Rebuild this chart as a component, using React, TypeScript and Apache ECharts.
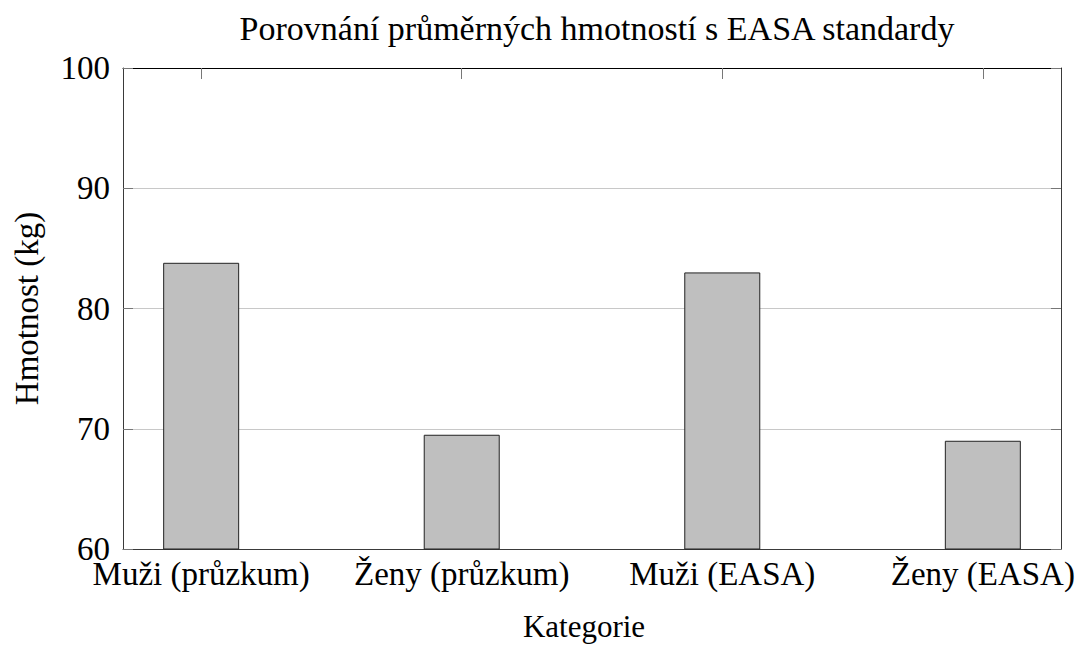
import React, { useEffect, useRef } from "react";
import * as echarts from "echarts";

const categories = ["Muži (průzkum)", "Ženy (průzkum)", "Muži (EASA)", "Ženy (EASA)"];
const weights = [83.8, 69.5, 83.0, 69.0];
const yTicks = [60, 70, 80, 90, 100];

const FONT = "'Liberation Serif', serif";
const positions = categories.map((_, i) => i);

export default function App() {
  const ref = useRef<HTMLDivElement>(null);
  useEffect(() => {
    if (!ref.current) return;
    const chart = echarts.init(ref.current, undefined, { renderer: "svg" });
    const frameColor = "#3a3a3a";
    chart.setOption({
      animation: false,
      backgroundColor: "#ffffff",
      textStyle: { fontFamily: FONT },
      title: {
        text: "Porovnání průměrných hmotností s EASA standardy",
        left: 592,
        textAlign: "center",
        top: 6,
        textStyle: { fontFamily: FONT, fontSize: 34, fontWeight: "normal", color: "#000" },
      },
      grid: { left: 123, right: 17, top: 68, bottom: 95 },
      xAxis: [
        {
          type: "value",
          min: -0.3,
          max: 3.3,
          position: "bottom",
          name: "Kategorie",
          nameLocation: "middle",
          nameGap: 62,
          nameTextStyle: { fontFamily: FONT, fontSize: 31, color: "#000", padding: [0, 16, 0, 0] },
          axisLine: { show: true, onZero: false, lineStyle: { color: frameColor, width: 1 } },
          axisTick: { show: true, inside: true, length: 10, customValues: positions, lineStyle: { color: "#777" } },
          axisLabel: {
            customValues: positions,
            formatter: (v: number) => categories[Math.round(v)] ?? "",
            fontFamily: FONT,
            fontSize: 33,
            lineHeight: 24,
            color: "#000",
            margin: 13,
          },
          splitLine: { show: false },
        },
        {
          type: "value",
          min: -0.3,
          max: 3.3,
          position: "top",
          axisLine: { show: true, onZero: false, lineStyle: { color: "#000", width: 1 } },
          axisTick: { show: true, inside: true, length: 11, customValues: positions, lineStyle: { color: "#777" } },
          axisLabel: { show: false },
          splitLine: { show: false },
        },
      ],
      yAxis: [
        {
          type: "value",
          min: yTicks[0],
          max: yTicks[yTicks.length - 1],
          interval: 10,
          position: "left",
          name: "Hmotnost (kg)",
          nameLocation: "middle",
          nameGap: 80,
          nameTextStyle: { fontFamily: FONT, fontSize: 33, color: "#000" },
          axisLine: { show: true, onZero: false, lineStyle: { color: frameColor, width: 1 } },
          axisTick: { show: true, inside: true, length: 10, lineStyle: { color: "#777" } },
          axisLabel: { fontFamily: FONT, fontSize: 33, lineHeight: 24, color: "#000", margin: 13 },
          splitLine: { show: true, lineStyle: { color: "#c8c8c8", width: 1 } },
        },
        {
          type: "value",
          min: yTicks[0],
          max: yTicks[yTicks.length - 1],
          interval: 10,
          position: "right",
          axisLine: { show: true, onZero: false, lineStyle: { color: frameColor, width: 1 } },
          axisTick: { show: true, inside: true, length: 10, lineStyle: { color: "#777" } },
          axisLabel: { show: false },
          splitLine: { show: false },
        },
      ],
      series: [
        {
          type: "bar",
          xAxisIndex: 0,
          yAxisIndex: 0,
          barWidth: 76,
          data: weights.map((w, i) => [positions[i], w]),
          itemStyle: { color: "#bfbfbf", borderColor: "#222", borderWidth: 1 },
        },
      ],
    });
    return () => chart.dispose();
  }, []);
  return (
    <div
      ref={ref}
      style={{ position: "fixed", left: 0, top: 0, width: 1078, height: 647, background: "#fff" }}
    />
  );
}
